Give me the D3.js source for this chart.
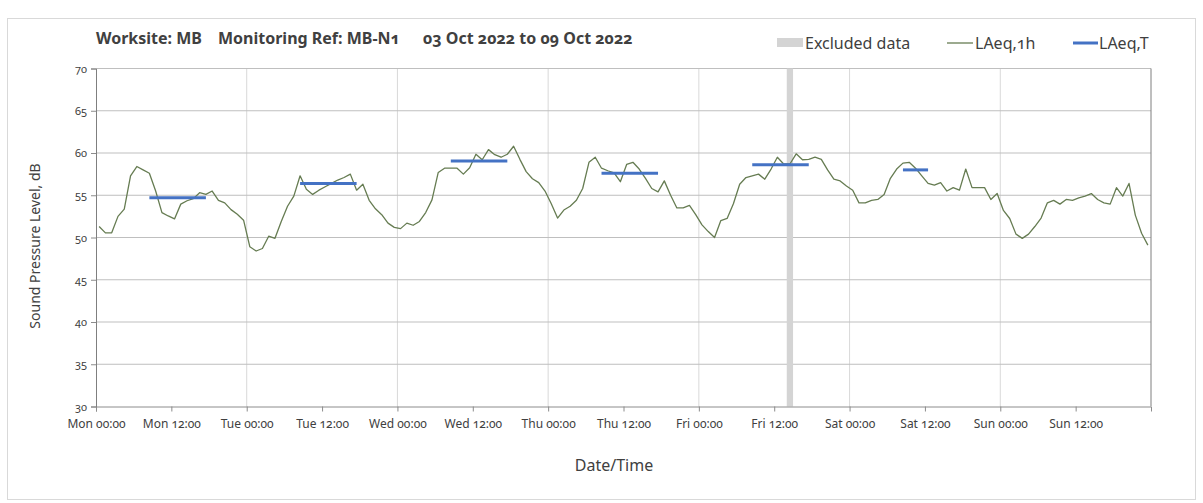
<!DOCTYPE html>
<html><head><meta charset="utf-8">
<script src="https://cdn.jsdelivr.net/npm/d3@7"></script>
<style>
body{margin:0;background:#fff;}
svg text{font-family:"Noto Sans","Open Sans",sans-serif;font-variant-numeric:oldstyle-nums;font-feature-settings:"onum" 1;fill:#404040;}
</style></head>
<body><svg id="c" width="1203" height="503"></svg>
<script>
const dayNames = ["Mon","Tue","Wed","Thu","Fri","Sat","Sun"];
const tickLabels = ["Mon 00:00","Mon 12:00","Tue 00:00","Tue 12:00","Wed 00:00","Wed 12:00","Thu 00:00","Thu 12:00","Fri 00:00","Fri 12:00","Sat 00:00","Sat 12:00","Sun 00:00","Sun 12:00"];
const yTicks = [30,35,40,45,50,55,60,65,70];
const laeq1h = [
51.3,50.55,50.55,52.5,53.35,57.3,58.4,58.0,57.6,55.5,52.95,52.55,52.2,53.95,54.35,54.6,55.3,55.1,55.5,54.4,54.1,53.3,52.75,52.05,
48.9,48.4,48.7,50.15,49.9,51.9,53.7,54.9,57.3,55.7,55.1,55.6,56.0,56.4,56.8,57.1,57.5,55.6,56.3,54.4,53.4,52.7,51.7,51.2,
51.05,51.7,51.45,51.9,52.95,54.45,57.7,58.2,58.2,58.2,57.5,58.25,59.85,59.2,60.4,59.8,59.5,59.85,60.8,59.25,57.8,56.95,56.5,55.5,
54.0,52.3,53.25,53.7,54.4,55.8,58.9,59.5,58.2,57.9,57.65,56.6,58.65,58.9,58.1,57.0,55.8,55.4,56.7,55.0,53.5,53.5,53.8,52.7,
51.5,50.7,50.0,52.0,52.25,54.0,56.3,57.1,57.3,57.5,56.9,58.1,59.5,58.7,58.7,59.9,59.2,59.25,59.5,59.25,58.0,56.9,56.7,56.1,
55.6,54.1,54.1,54.4,54.5,55.1,57.0,58.1,58.8,58.9,58.2,57.3,56.4,56.2,56.5,55.5,55.9,55.6,58.1,55.9,55.9,55.9,54.5,55.2,
53.2,52.25,50.4,49.9,50.4,51.3,52.3,54.1,54.4,53.95,54.5,54.4,54.7,54.9,55.2,54.5,54.1,53.95,55.9,54.9,56.4,52.65,50.5,49.1
];
const laeqTStart = [8,32,56,80,104,128];
const laeqTEnd = [17,41,65,89,113,132];
const laeqTValues = [54.7,56.4,59.05,57.6,58.6,58.0];
const excludedHours = [110];
const titleParts = ["Worksite: MB","Monitoring Ref: MB-N1","03 Oct 2022 to 09 Oct 2022"];

(function(){
const svg = d3.select("#c");
const W = 1203, H = 503;
const pL = 96, pR = 1151, pT = 68.5, pB = 406.5;
const nHours = dayNames.length * 24;
const x = d3.scaleLinear().domain([0, nHours]).range([pL, pR]);
const y = d3.scaleLinear().domain([30, 70]).range([pB, pT]);

svg.append("rect").attr("x",7.5).attr("y",18.5).attr("width",W-15).attr("height",H-22)
  .attr("fill","none").attr("stroke","#d9d9d9");

svg.append("g").selectAll("line").data(d3.range(1, dayNames.length)).join("line")
  .attr("x1", d=>x(d*24)).attr("x2", d=>x(d*24)).attr("y1", pT).attr("y2", pB)
  .attr("stroke","#d9d9d9").attr("stroke-width",1);
svg.append("g").selectAll("line").data(yTicks.filter(v=>v>30)).join("line")
  .attr("x1", pL).attr("x2", pR).attr("y1", d=>y(d)).attr("y2", d=>y(d))
  .attr("stroke","#bfbfbf").attr("stroke-width",1);

svg.append("g").selectAll("rect").data(excludedHours).join("rect")
  .attr("x", d=>x(d)).attr("width", d=>x(d+1)-x(d))
  .attr("y", y(70)).attr("height", y(30)-y(70)).attr("fill","#d4d4d4");

const xAxis = d3.axisBottom(x).tickValues(d3.range(0, nHours, 12)).tickSize(5)
  .tickFormat((d,i)=>tickLabels[i]);
const gx = svg.append("g").attr("transform",`translate(0,${pB})`).call(xAxis);
gx.select(".domain").attr("stroke","#8c8c8c");
gx.selectAll(".tick line").attr("stroke","#8c8c8c");
gx.selectAll(".tick text").attr("font-size","12px").attr("dy","1.15em").attr("fill","#404040");

const yAxis = d3.axisLeft(y).tickValues(yTicks).tickSize(5).tickFormat(d3.format("d"));
const gy = svg.append("g").attr("transform",`translate(${pL},0)`).call(yAxis);
gy.select(".domain").attr("stroke","#7f7f7f");
gy.selectAll(".tick line").attr("stroke","#8c8c8c");
gy.selectAll(".tick text").attr("font-size","11px").attr("x",-9).attr("fill","#404040");
svg.append("line").attr("x1",pR).attr("x2",pR).attr("y1",pT).attr("y2",pB).attr("stroke","#7f7f7f");

const line = d3.line().x((d,i)=>x(i+0.5)).y(d=>y(d));
svg.append("path").datum(laeq1h).attr("d", line).attr("fill","none")
  .attr("stroke","#667c52").attr("stroke-width",1.3).attr("stroke-linejoin","round");

svg.append("g").selectAll("line").data(laeqTValues).join("line")
  .attr("x1", (d,i)=>x(laeqTStart[i]+0.5)).attr("x2", (d,i)=>x(laeqTEnd[i]+0.5))
  .attr("y1", d=>y(d)).attr("y2", d=>y(d))
  .attr("stroke","#4472c4").attr("stroke-width",3);

const titleX = [96, 218, 423];
svg.append("g").selectAll("text").data(titleParts).join("text")
  .attr("x",(d,i)=>titleX[i]).attr("y",44).attr("font-size","16px").attr("font-weight","bold")
  .attr("fill","#111").text(d=>d);

const lg = svg.append("g");
lg.append("rect").attr("x",777).attr("y",38).attr("width",26).attr("height",9).attr("fill","#d4d4d4");
lg.append("text").attr("x",805).attr("y",48.5).attr("font-size","16px").text("Excluded data");
lg.append("line").attr("x1",947).attr("x2",973).attr("y1",43).attr("y2",43).attr("stroke","#667c52").attr("stroke-width",1.3);
lg.append("text").attr("x",975).attr("y",48.5).attr("font-size","16px").text("LAeq,1h");
lg.append("line").attr("x1",1073).attr("x2",1098).attr("y1",43).attr("y2",43).attr("stroke","#4472c4").attr("stroke-width",3);
lg.append("text").attr("x",1099).attr("y",48.5).attr("font-size","16px").text("LAeq,T");

svg.append("text").attr("transform",`translate(40,246) rotate(-90)`)
  .attr("text-anchor","middle").attr("font-size","14px").text("Sound Pressure Level, dB");
svg.append("text").attr("x",614).attr("y",471).attr("text-anchor","middle")
  .attr("font-size","16px").text("Date/Time");
})();
</script></body></html>
